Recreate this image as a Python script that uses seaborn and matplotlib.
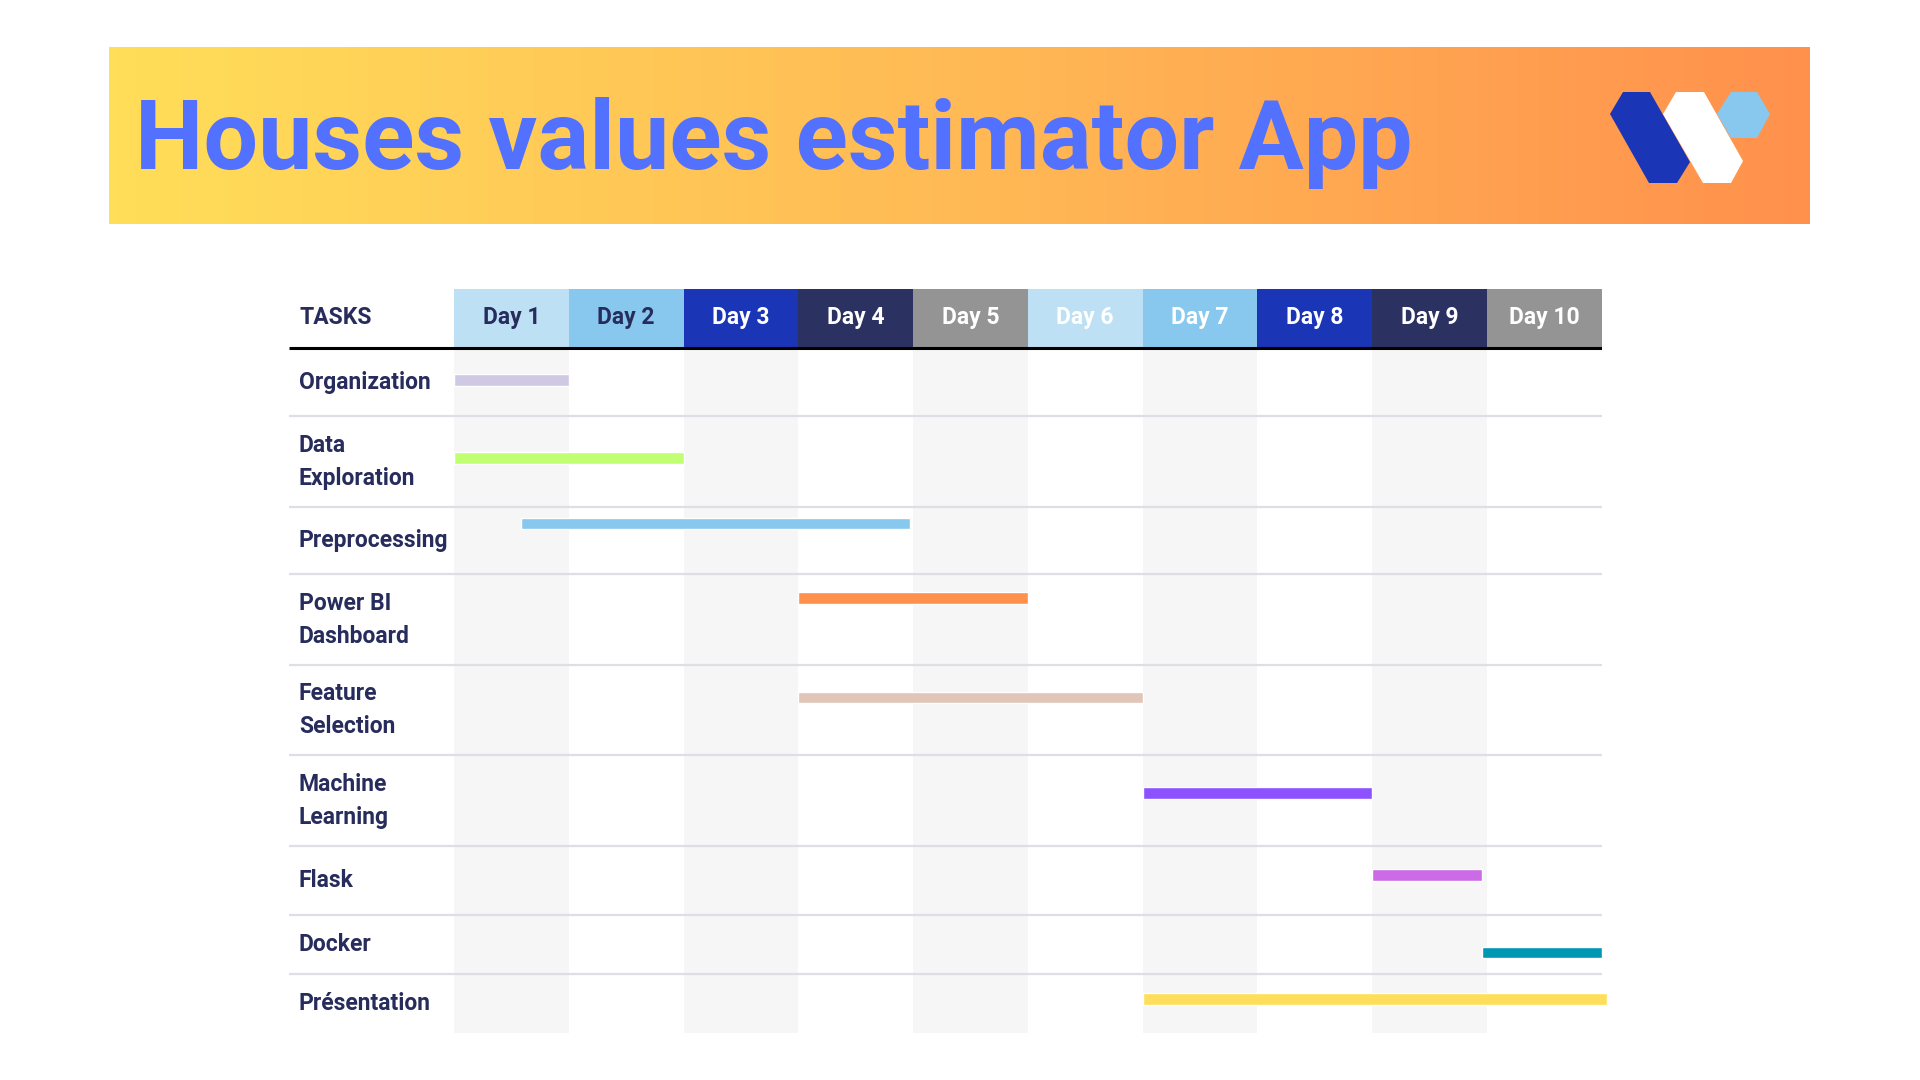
import numpy as np
import matplotlib
matplotlib.use("Agg")
import matplotlib.pyplot as plt
from matplotlib.patches import Rectangle, Polygon
from matplotlib.colors import LinearSegmentedColormap
import seaborn as sns

# ---- data ----
title = "Houses values estimator App"
days = ["Day 1", "Day 2", "Day 3", "Day 4", "Day 5",
        "Day 6", "Day 7", "Day 8", "Day 9", "Day 10"]
tasks = ["Organization", "Data\nExploration", "Preprocessing", "Power BI\nDashboard",
         "Feature\nSelection", "Machine\nLearning", "Flask", "Docker", "Présentation"]
start = [0.0, 0.0, 0.58, 3.0, 3.0, 6.0, 8.0, 8.96, 6.0]
end = [1.0, 2.0, 3.97, 5.0, 6.0, 8.0, 8.96, 10.0, 10.05]
bar_colors = ["#D0C9E3", "#C1FF72", "#88C8EE", "#FF914D", "#E0C5B9",
              "#8C52FF", "#CB6CE6", "#0097B2", "#FFDE59"]
header_colors = ["#BDE0F4", "#88C8EE", "#1A35B5", "#2B3161", "#949494"] * 2
header_text = ["#272C5C", "#272C5C"] + ["white"] * 8

# ---- layout (pixels) ----
row_edges = [348, 416.5, 507, 574.3, 665, 755.5, 846, 914.7, 974, 1033]
bar_y = [380, 458, 523.5, 598, 697.5, 793, 875, 952.5, 999]
col0_px, col_w = 454, 114.75
tbl_left, tbl_top, head_bot = 289, 289, 347

sns.set_style("white")
navy = "#272C5C"
plt.rcParams["font.family"] = ["Roboto", "DejaVu Sans"]

fig = plt.figure(figsize=(19.2, 10.8), dpi=100)

# banner + logo on a pixel-space axes
bg = fig.add_axes([0, 0, 1, 1])
grad = np.linspace(0, 1, 512).reshape(1, -1)
cmap = LinearSegmentedColormap.from_list("banner", ["#FFDE59", "#FFBA55", "#FF914D"])
bg.imshow(grad, cmap=cmap, extent=[109, 1810, 224, 47], aspect="auto")
bg.set_xlim(0, 1920)
bg.set_ylim(1080, 0)
bg.axis("off")

t = bg.text(135, 169, title, fontsize=70, fontweight="bold", color="#5271FF",
            ha="left", va="baseline")
fig.canvas.draw()
w = t.get_window_extent(fig.canvas.get_renderer()).width
t.set_fontsize(70 * 1277 / w)

bg.add_patch(Polygon([(1623, 92), (1650, 92), (1690, 162), (1677, 183),
                      (1649, 183), (1610, 114)], closed=True, color="#1A35B5", lw=0))
bg.add_patch(Polygon([(1731, 92), (1757, 92), (1770, 114), (1757, 138),
                      (1731, 138), (1717, 114)], closed=True, color="#88C8EE", lw=0))
bg.add_patch(Polygon([(1676, 92), (1704, 92), (1743, 161), (1731, 183),
                      (1703, 183), (1663, 114)], closed=True, color="white", lw=0))

# table axes
x_right = col0_px + 10 * col_w
ax = fig.add_axes([tbl_left / 1920, 1 - row_edges[-1] / 1080,
                   (x_right - tbl_left) / 1920, (row_edges[-1] - tbl_top) / 1080])
xmin = -(col0_px - tbl_left) / col_w
ax.set_xlim(xmin, 10)
ax.set_ylim(row_edges[-1], tbl_top)
ax.axis("off")

for i, d in enumerate(days):
    ax.add_patch(Rectangle((i, tbl_top), 1, head_bot - tbl_top, color=header_colors[i], lw=0))
    ax.text(i + 0.5, (tbl_top + head_bot) / 2, d, ha="center", va="center",
            fontsize=16.5, fontweight="bold", color=header_text[i])
    if i % 2 == 0:
        ax.add_patch(Rectangle((i, row_edges[0]), 1, row_edges[-1] - row_edges[0],
                               color="#F6F6F6", lw=0, zorder=0))

ax.text(xmin + 10 / col_w, (tbl_top + head_bot) / 2, "TASKS", ha="left", va="center",
        fontsize=16.5, fontweight="bold", color=navy)
ax.plot([xmin, 10], [row_edges[0], row_edges[0]], color="black", lw=2.2, solid_capstyle="butt")
ax.hlines(row_edges[1:-1], xmin, 10, color="#DFDEE5", lw=1.6)

for i, name in enumerate(tasks):
    ax.text(xmin + 10 / col_w, (row_edges[i] + row_edges[i + 1]) / 2, name,
            ha="left", va="center", fontsize=16.5, fontweight="bold", color=navy,
            linespacing=1.55)

ax.barh(bar_y, np.array(end) - np.array(start), left=start, height=11.5,
        color=bar_colors, zorder=3, clip_on=False)

fig.savefig("out.png", dpi=100)
